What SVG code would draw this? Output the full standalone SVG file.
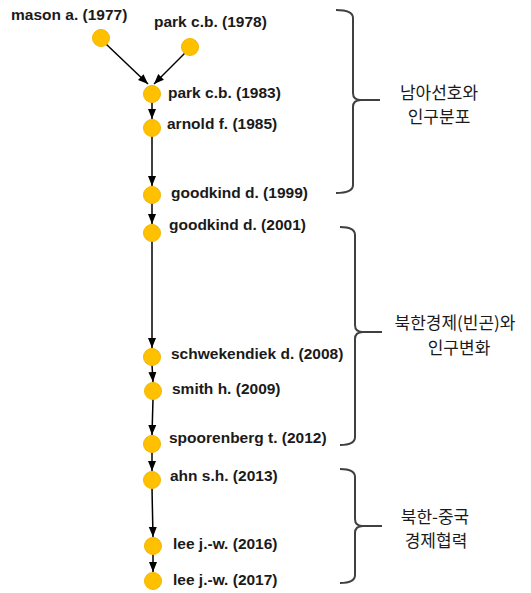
<svg xmlns="http://www.w3.org/2000/svg" width="531" height="593" viewBox="0 0 531 593">
<defs>
<marker id="ah" markerUnits="userSpaceOnUse" markerWidth="10" markerHeight="10" refX="10" refY="5" orient="auto">
<path d="M0,1 L10,5 L0,9 Z" fill="#000"/>
</marker>
<style>
.node circle{fill:#FFC000;stroke:#F2B600;stroke-width:1}
.node text{font-family:"Liberation Sans",Arial,sans-serif;font-weight:bold;font-size:15.5px;fill:#1a1a1a}
.edges line{stroke:#000;stroke-width:1.5;marker-end:url(#ah)}
.brace{fill:none;stroke:#404040;stroke-width:2}
.grp{font-family:"Noto Sans CJK KR","Noto Sans",sans-serif;font-size:17px;fill:#1a1a1a;text-anchor:middle}
</style>
</defs>
<rect width="531" height="593" fill="#fff"/>
<g id="edges" class="edges">
<line x1="106" y1="44" x2="148" y2="84"/>
<line x1="185" y1="53" x2="154" y2="84"/>
<line x1="152" y1="102" x2="152" y2="119"/>
<line x1="152" y1="136" x2="152" y2="186"/>
<line x1="152" y1="203" x2="152" y2="224"/>
<line x1="152" y1="241" x2="152" y2="348"/>
<line x1="152" y1="365" x2="153" y2="382"/>
<line x1="153" y1="399" x2="152" y2="435"/>
<line x1="152" y1="452" x2="152" y2="471"/>
<line x1="152" y1="488" x2="153" y2="537"/>
<line x1="153" y1="554" x2="153" y2="572"/>
</g>
<g id="n1" class="node"><circle cx="101" cy="38" r="8.5"/><text x="11" y="20">mason a. (1977)</text></g>
<g id="n2" class="node"><circle cx="190" cy="47" r="8.5"/><text x="154" y="27">park c.b. (1978)</text></g>
<g id="n3" class="node"><circle cx="152" cy="94" r="8.5"/><text x="168" y="98">park c.b. (1983)</text></g>
<g id="n4" class="node"><circle cx="152" cy="128" r="8.5"/><text x="167" y="129">arnold f. (1985)</text></g>
<g id="n5" class="node"><circle cx="152" cy="195" r="8.5"/><text x="171" y="198">goodkind d. (1999)</text></g>
<g id="n6" class="node"><circle cx="152" cy="233" r="8.5"/><text x="169" y="230">goodkind d. (2001)</text></g>
<g id="n7" class="node"><circle cx="152" cy="357" r="8.5"/><text x="171" y="359">schwekendiek d. (2008)</text></g>
<g id="n8" class="node"><circle cx="153" cy="391" r="8.5"/><text x="172" y="394">smith h. (2009)</text></g>
<g id="n9" class="node"><circle cx="152" cy="444" r="8.5"/><text x="169" y="443">spoorenberg t. (2012)</text></g>
<g id="n10" class="node"><circle cx="152" cy="480" r="8.5"/><text x="170" y="481">ahn s.h. (2013)</text></g>
<g id="n11" class="node"><circle cx="153" cy="546" r="8.5"/><text x="173" y="549">lee j.-w. (2016)</text></g>
<g id="n12" class="node"><circle cx="153" cy="581" r="8.5"/><text x="173" y="585">lee j.-w. (2017)</text></g>
<g id="g1">
<path class="brace" d="M336,10 Q353,10 353,18 L353,93 Q353,100 361,100 L380,100 M361,100 Q353,100 353,107 L353,185 Q353,193 336,193"/>
<text class="grp" x="439" y="99">남아선호와</text>
<text class="grp" x="439" y="123">인구분포</text>
</g>
<g id="g2">
<path class="brace" d="M340,227 Q355,227 355,235 L355,325 Q355,332 363,332 L382,332 M363,332 Q355,332 355,339 L355,437 Q355,445 340,445"/>
<text class="grp" x="455" y="329">북한경제(빈곤)와</text>
<text class="grp" x="459" y="354">인구변화</text>
</g>
<g id="g3">
<path class="brace" d="M340,469 Q355,469 355,477 L355,519 Q355,526 363,526 L382,526 M363,526 Q355,526 355,533 L355,575 Q355,583 340,583"/>
<text class="grp" x="435" y="523">북한-중국</text>
<text class="grp" x="436" y="547">경제협력</text>
</g>
</svg>
